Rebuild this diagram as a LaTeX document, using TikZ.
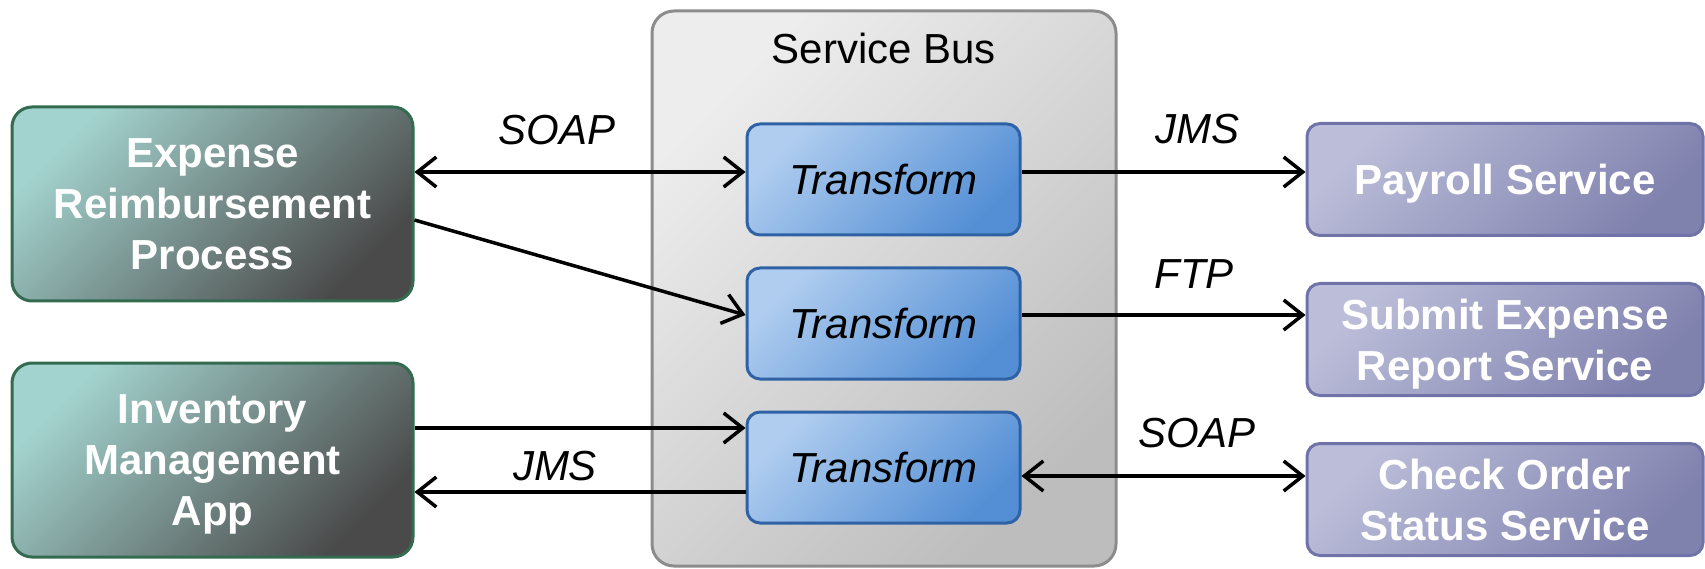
\documentclass[tikz,border=0pt]{standalone}
\usepackage{fontspec}
\setmainfont{Liberation Sans}
\usetikzlibrary{arrows.meta}
\definecolor{appLight}{HTML}{A3D3CE}
\definecolor{appDark}{HTML}{4A4A4A}
\definecolor{appBorder}{HTML}{336B50}
\definecolor{trLight}{HTML}{B0CDEF}
\definecolor{trDark}{HTML}{548FD5}
\definecolor{trBorder}{HTML}{2E62A4}
\definecolor{svLight}{HTML}{BBBDD9}
\definecolor{svDark}{HTML}{8082AE}
\definecolor{svBorder}{HTML}{6F73A8}
\definecolor{busLight}{HTML}{EDEDED}
\definecolor{busDark}{HTML}{BDBDBD}
\definecolor{busBorder}{HTML}{8C8C8C}
\begin{document}
\begin{tikzpicture}[x=1pt,y=-1pt,
  every node/.style={font=\fontsize{42}{51}\selectfont, inner sep=0pt, align=center},
  appbox/.style={draw=appBorder, line width=3pt, rounded corners=20pt,
    top color=appLight, bottom color=appDark, shading angle=45,
    text=white, font=\fontsize{42}{51}\selectfont\bfseries, text depth=-5pt,
    minimum width=401pt, minimum height=194pt},
  trbox/.style={draw=trBorder, line width=3pt, rounded corners=13pt,
    top color=trLight, bottom color=trDark, shading angle=45,
    font=\fontsize{42}{51}\selectfont\itshape, text depth=0pt,
    minimum width=273pt, minimum height=111pt},
  svbox/.style={draw=svBorder, line width=3pt, rounded corners=13pt,
    top color=svLight, bottom color=svDark, shading angle=45,
    text=white, font=\fontsize{42}{51}\selectfont\bfseries, text depth=0pt,
    minimum width=396pt, minimum height=112pt},
  busbox/.style={draw=busBorder, line width=3pt, rounded corners=22pt,
    top color=busLight, bottom color=busDark, shading angle=45,
    minimum width=464pt, minimum height=555pt},
  lbl/.style={anchor=base, font=\fontsize{42}{51}\selectfont\itshape},
  arr/.style={line width=3.5pt, -{Straight Barb[length=19pt,width=30pt]}},
  darr/.style={line width=3.5pt, {Straight Barb[length=19pt,width=30pt]}-{Straight Barb[length=19pt,width=30pt]}}
]
\useasboundingbox (0,0) rectangle (1705,569);

% service bus container
\node[busbox] (bus) at (884,288.5) {};
\node[anchor=base] (bustitle) at (884,64) {Service Bus};

% left applications
\node[appbox] (exp) at (212.5,204) {Expense\\Reimbursement\\Process};
\node[appbox] (inv) at (212.5,460) {Inventory\\Management\\App};

% transforms
\node[trbox] (t1) at (883.5,179.5) {Transform};
\node[trbox] (t2) at (883.5,323.5) {Transform};
\node[trbox] (t3) at (883.5,467.5) {Transform};

% services
\node[svbox] (pay) at (1505,179.5) {Payroll Service};
\node[svbox] (sub) at (1505,339.5) {Submit Expense\\Report Service};
\node[svbox] (chk) at (1505,499.5) {Check Order\\Status Service};

% helper levels
\coordinate (ya) at (0,172);
\coordinate (yb) at (0,220);
\coordinate (yc) at (0,315);
\coordinate (yd) at (0,428);
\coordinate (ye) at (0,492);
\coordinate (yf) at (0,476);

% connectors
\draw[darr] (exp.east |- ya) -- (t1.west |- ya);
\draw[arr] (exp.east |- yb) -- (t2.west |- yc);
\draw[arr] (t1.east |- ya) -- (pay.west |- ya);
\draw[arr] (t2.east |- yc) -- (sub.west |- yc);
\draw[darr] (t3.east |- yf) -- (chk.west |- yf);
\draw[arr] (inv.east |- yd) -- (t3.west |- yd);
\draw[arr] (t3.west |- ye) -- (inv.east |- ye);

% labels
\node[lbl] (l1) at (557,145) {SOAP};
\node[lbl] (l2) at (1197,144) {JMS};
\node[lbl] (l3) at (1194,289) {FTP};
\node[lbl] (l4) at (1197,447.5) {SOAP};
\node[lbl] (l5) at (555,480) {JMS};
\end{tikzpicture}
\end{document}
